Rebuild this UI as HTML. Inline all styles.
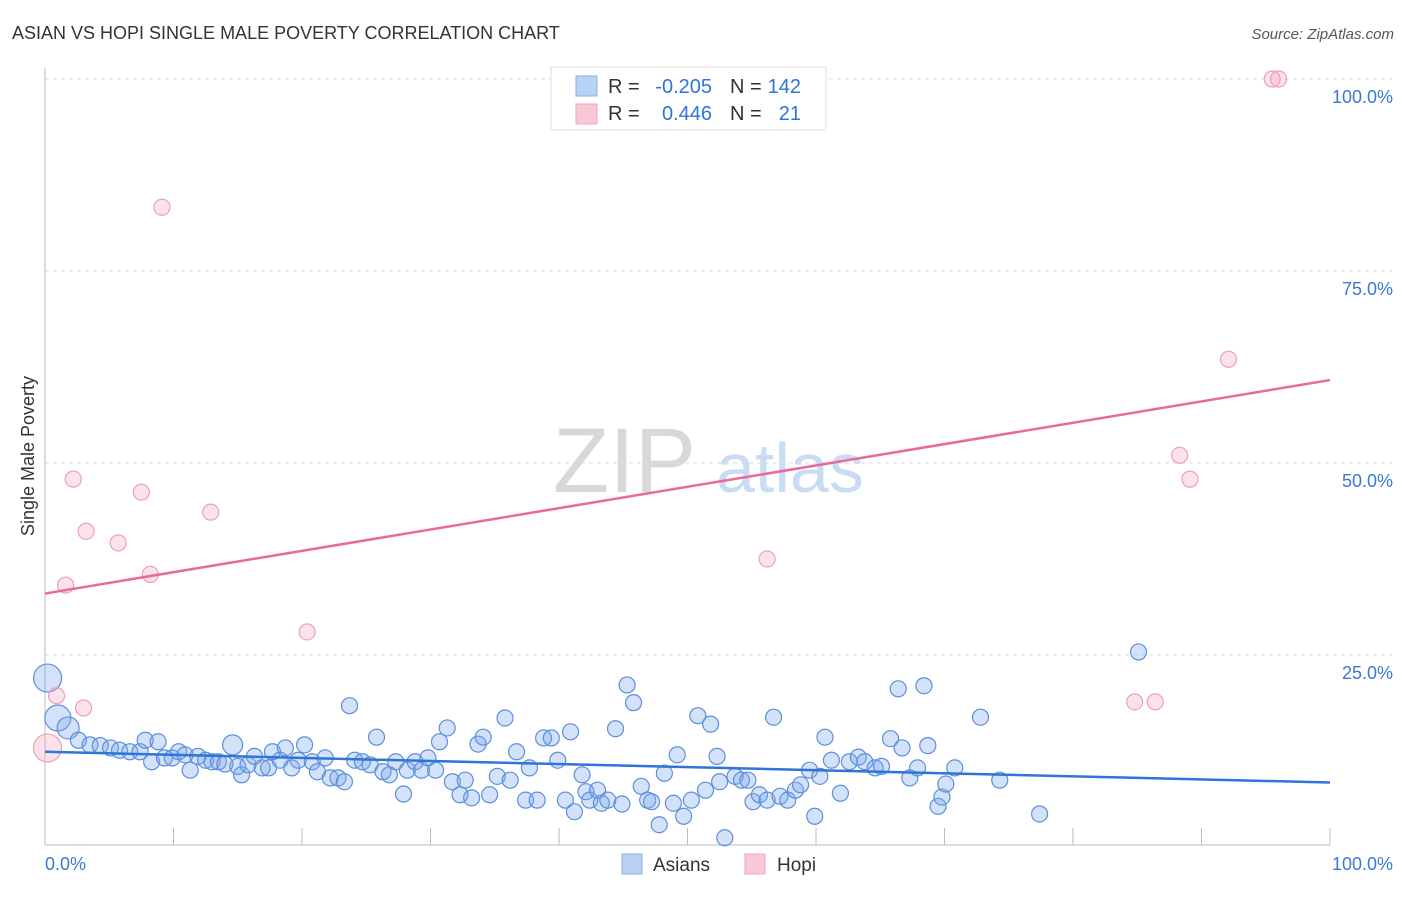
<!DOCTYPE html>
<html><head><meta charset="utf-8">
<style>
body{margin:0;background:#fff;font-family:"Liberation Sans",sans-serif;}
svg text{font-family:"Liberation Sans",sans-serif;}
</style></head>
<body>
<svg id="chart" width="1406" height="892" xmlns="http://www.w3.org/2000/svg">
<text x="12" y="39" font-size="18" fill="#333">ASIAN VS HOPI SINGLE MALE POVERTY CORRELATION CHART</text>
<text x="1394" y="39" font-size="15" fill="#555" font-style="italic" text-anchor="end">Source: ZipAtlas.com</text>
<text transform="translate(34,456) rotate(-90)" font-size="18" fill="#333" text-anchor="middle">Single Male Poverty</text>
<g>
<text x="553" y="492" font-size="92" fill="#d8d8d8" font-family="Liberation Serif">ZIP</text>
<text x="716" y="492" font-size="70" fill="#c9dcf3">atlas</text>
</g>
<g id="grid"></g>
<g id="axes"></g>
<g id="pts"></g>
<g id="lines"></g>
<g>
<rect x="551" y="67" width="275" height="63" fill="#fff" stroke="#ddd"/>
<rect x="576" y="76" width="21" height="20" fill="#b9d3f5" stroke="#8ab0e6"/>
<rect x="576" y="104" width="21" height="20" fill="#f9c8d7" stroke="#eda5bd"/>
<text x="608" y="93" font-size="20" fill="#333">R = </text><text x="712" y="93" font-size="20" fill="#2f74d8" text-anchor="end">-0.205</text>
<text x="730" y="93" font-size="20" fill="#333">N = </text><text x="801" y="93" font-size="20" fill="#2f74d8" text-anchor="end">142</text>
<text x="608" y="120" font-size="20" fill="#333">R = </text><text x="712" y="120" font-size="20" fill="#2f74d8" text-anchor="end">0.446</text>
<text x="730" y="120" font-size="20" fill="#333">N = </text><text x="801" y="120" font-size="20" fill="#2f74d8" text-anchor="end">21</text>
</g>
<g>
<rect x="622" y="854" width="20" height="20" fill="#b9d3f5" stroke="#8ab0e6"/>
<text x="653" y="871" font-size="19" fill="#333">Asians</text>
<rect x="745" y="854" width="20" height="20" fill="#f9c8d7" stroke="#eda5bd"/>
<text x="777" y="871" font-size="19" fill="#333">Hopi</text>
</g>
</svg>
<script>
const asianX=[0.2,1.0,1.8,2.6,3.5,4.3,5.1,5.8,6.6,7.4,7.8,8.3,8.8,9.3,9.9,10.4,10.9,11.3,11.9,12.5,13.0,13.5,14.0,14.6,15.0,15.3,15.8,16.3,16.9,17.4,17.7,18.3,18.7,19.2,19.7,20.2,20.8,21.2,21.8,22.2,22.8,23.3,23.7,24.1,24.7,25.3,25.8,26.3,26.8,27.3,27.9,28.2,28.8,29.3,29.8,30.4,30.7,31.3,31.7,32.3,32.7,33.2,33.7,34.1,34.6,35.2,35.8,36.2,36.7,37.4,37.7,38.3,38.8,39.4,39.9,40.5,40.9,41.2,41.8,42.1,42.4,43.0,43.3,43.8,44.4,44.9,45.3,45.8,46.4,46.9,47.2,47.8,48.2,48.9,49.2,49.7,50.3,50.8,51.4,51.8,52.3,52.5,52.9,53.7,54.2,54.7,55.1,55.6,56.2,56.7,57.2,57.8,58.4,58.8,59.5,59.9,60.3,60.7,61.2,61.9,62.6,63.3,63.8,64.6,65.1,65.8,66.4,66.7,67.3,67.9,68.4,68.7,69.5,69.8,70.1,70.8,72.8,74.3,77.4,85.1];
const asianY=[22.0,16.8,15.5,13.9,13.3,13.2,12.9,12.6,12.4,12.4,13.9,11.1,13.7,11.6,11.6,12.4,12.0,10.0,11.8,11.3,11.1,11.1,10.8,13.3,10.5,9.4,10.7,11.8,10.3,10.3,12.4,11.3,12.9,10.3,11.3,13.3,11.1,9.8,11.6,9.0,9.0,8.5,18.4,11.3,11.1,10.7,14.3,9.8,9.4,11.1,6.9,10.0,11.1,10.0,11.6,10.0,13.7,15.5,8.5,6.8,8.7,6.4,13.4,14.3,6.8,9.2,16.8,8.7,12.4,6.1,10.3,6.1,14.2,14.2,11.3,6.1,15.0,4.6,9.4,7.2,6.1,7.4,5.7,6.1,15.4,5.6,21.1,18.8,7.9,6.1,5.9,2.9,9.6,5.7,12.0,4.0,6.1,17.1,7.4,16.0,11.8,8.5,1.2,9.2,8.7,8.7,5.9,6.8,6.1,16.9,6.6,6.1,7.4,8.1,10.0,4.0,9.2,14.3,11.3,7.0,11.1,11.7,11.1,10.3,10.5,14.1,20.6,12.9,9.0,10.3,21.0,13.2,5.3,6.5,8.2,10.3,16.9,8.7,4.3,25.4];
const hopiX=[0.2,0.9,1.6,2.2,3.0,3.2,5.7,7.5,8.2,9.1,12.9,20.4,56.2,84.8,86.4,88.3,89.1,92.1,95.5,96.0];
const hopiY=[12.9,19.7,34.1,47.9,18.1,41.1,39.6,46.2,35.5,83.3,43.6,28.0,37.5,18.9,18.9,51.0,47.9,63.5,100,100];
const asianTrend=[12.4,8.4];
const hopiTrend=[33.0,60.8];
const yTicks=[25,50,75,100];
const yTickLabels=["25.0%","50.0%","75.0%","100.0%"];
const xTickCount=10;

const X0=45,X1=1330,Y0=847,Y1=79;
const sx=v=>X0+(X1-X0)*v/100;
const sy=v=>Y0-(Y0-Y1)*v/100;
const NS="http://www.w3.org/2000/svg";
function mk(tag,parent,attrs){const e=document.createElementNS(NS,tag);for(const k in attrs)e.setAttribute(k,attrs[k]);document.getElementById(parent).appendChild(e);return e;}

yTicks.forEach((t,i)=>{
  const g=mk('line','grid',{x1:X0,x2:1392,y1:sy(t),y2:sy(t),stroke:'#ddd','stroke-dasharray':'4,4'});
  
  
  const l=mk('text','axes',{x:1393,y:sy(t)+24,'font-size':18,fill:'#3a78d4','text-anchor':'end'});
  l.textContent=yTickLabels[i];
  
  
});
const ax=mk('line','axes',{x1:X0,x2:X1,y1:845,y2:845,stroke:'#bbb'});


const ay=mk('line','axes',{x1:X0,x2:X0,y1:68,y2:845,stroke:'#bbb'});


for(let i=0;i<=xTickCount;i++){
  const t=mk('line','axes',{x1:sx(i*100/xTickCount),x2:sx(i*100/xTickCount),y1:828,y2:845,stroke:'#bbb'});
  
  
}
const xl=mk('text','axes',{x:45,y:870,'font-size':18,fill:'#3a78d4'});xl.textContent='0.0%';


const xr=mk('text','axes',{x:1393,y:870,'font-size':18,fill:'#3a78d4','text-anchor':'end'});xr.textContent='100.0%';



const bigA={0:14,1:13,2:11,23:10};
asianX.forEach((x,i)=>{
  const c=mk('circle','pts',{cx:sx(x),cy:sy(asianY[i]),r:bigA[i]||8,fill:'rgba(120,165,235,0.32)',stroke:'#5b8fdc','stroke-width':1.2});
  
  
});
hopiX.forEach((x,i)=>{
  const c=mk('circle','pts',{cx:sx(x),cy:sy(hopiY[i]),r:i===0?14:8,fill:'rgba(245,160,190,0.3)',stroke:'#eba0ba','stroke-width':1.2});
  
  
});
const la=mk('line','lines',{x1:sx(0),x2:sx(100),y1:sy(asianTrend[0]),y2:sy(asianTrend[1]),stroke:'#2f74d8','stroke-width':2.5});


const lh=mk('line','lines',{x1:sx(0),x2:sx(100),y1:sy(hopiTrend[0]),y2:sy(hopiTrend[1]),stroke:'#e8699a','stroke-width':2.5});


</script>
</body></html>
